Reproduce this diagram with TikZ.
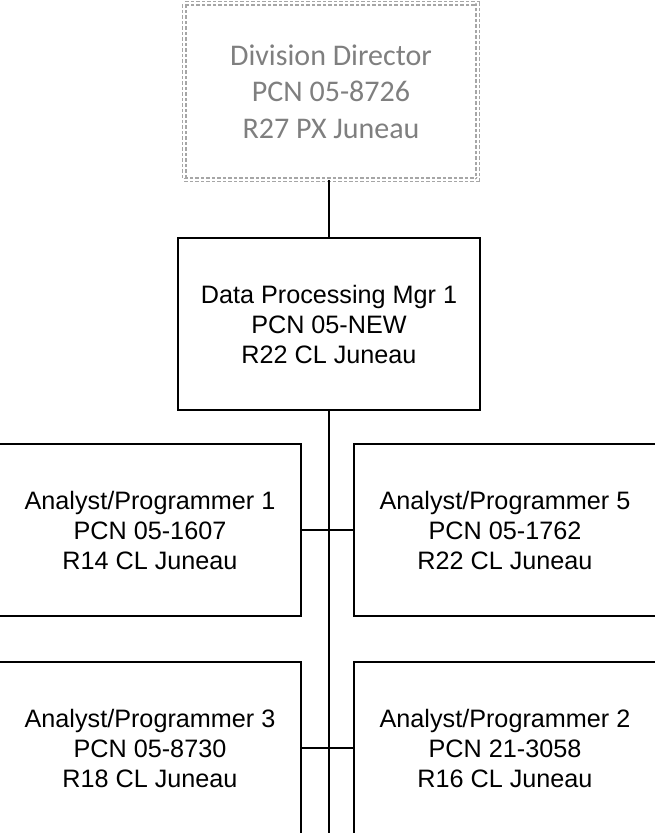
\documentclass[tikz,border=0pt]{standalone}
\usepackage{fontspec}
\setmainfont{Liberation Sans}
\newfontfamily\calibrifont{Carlito}
\usepackage{tikz}

\definecolor{vacantgray}{HTML}{7F7F7F}
\definecolor{vacantline}{HTML}{A6A6A6}

\begin{document}
\begin{tikzpicture}[x=1pt,y=-1pt]
		\useasboundingbox (0,0) rectangle (655,833);

		% vacant position on top
		\node[draw=vacantline,double=white,double distance=2.2pt,line width=1.4pt,
			  dash pattern=on 3.5pt off 2pt,rectangle,inner sep=0pt,
			  minimum width=293.5pt,minimum height=176.5pt,align=center,
			  text=vacantgray,font=\calibrifont\fontsize{30}{36.7}\selectfont]
			(dd) at (331,91.5) {Division Director\\PCN 05-8726\\R27 PX Juneau};

		\begin{scope}[every node/.style={rectangle,draw,line width=1.3pt,inner sep=0pt,
					  minimum width=302pt,minimum height=172pt,align=center,
					  font=\fontsize{25.2}{30}\selectfont}]
			\node (mgr) at (329,324) {Data Processing Mgr 1\\PCN 05-NEW\\R22 CL Juneau};
			\node (ap1) at (150,530) {Analyst/Programmer 1\\PCN 05-1607\\R14 CL Juneau};
			\node (ap5) at (505,530) {Analyst/Programmer 5\\PCN 05-1762\\R22 CL Juneau};
			\node (ap3) at (150,748) {Analyst/Programmer 3\\PCN 05-8730\\R18 CL Juneau};
			\node (ap2) at (505,748) {Analyst/Programmer 2\\PCN 21-3058\\R16 CL Juneau};
		\end{scope}

		\coordinate (bot) at (329,840);

		\begin{scope}[line width=1.3pt]
			\draw (mgr.north) -- (mgr.north |- dd.south);
			\draw (mgr.south) -- (bot);
			\draw (ap1.east) -- (ap5.west);
			\draw (ap3.east) -- (ap2.west);
		\end{scope}
\end{tikzpicture}
\end{document}
